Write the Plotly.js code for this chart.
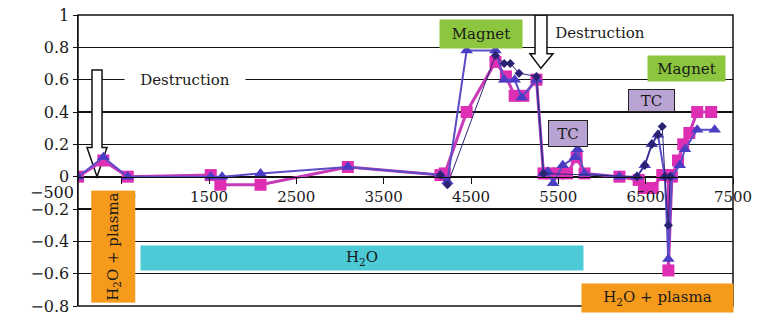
<!DOCTYPE html>
<html>
<head>
<meta charset="utf-8">
<script src="https://cdn.plot.ly/plotly-3.0.1.min.js"></script>
<style>
  html, body { margin: 0; padding: 0; background: #fff; }
  #chart { width: 761px; height: 321px; }
</style>
</head>
<body>
<div id="chart"></div>
<script>
// Series 1 - magenta squares
var pinkX = [0, 290, 570, 1520, 1630, 2090, 3090, 4150, 4200, 4450, 4780, 4900, 5000, 5100, 5250, 5330, 5400, 5500, 5600, 5710, 5800, 6200, 6420, 6480, 6580, 6690, 6760, 6760, 6800, 6870, 6930, 7000, 7090, 7250];
var pinkY = [0, 0.1, 0, 0.01, -0.05, -0.05, 0.06, 0.01, 0.02, 0.4, 0.71, 0.62, 0.5, 0.5, 0.6, 0.02, 0.02, 0.02, 0.02, 0.12, 0.02, 0, -0.02, -0.07, -0.07, 0.01, 0.01, -0.58, 0, 0.1, 0.2, 0.27, 0.4, 0.4];

// Series 2 - blue triangles
var blueX = [0, 290, 570, 1520, 1650, 2090, 3090, 4150, 4230, 4450, 4780, 4880, 5000, 5080, 5250, 5330, 5380, 5440, 5550, 5690, 5720, 5800, 6200, 6400, 6490, 6570, 6640, 6720, 6760, 6800, 6890, 6950, 7090, 7290];
var blueY = [0, 0.12, 0, 0, 0, 0.02, 0.06, 0.01, -0.03, 0.78, 0.78, 0.6, 0.6, 0.49, 0.6, 0.02, 0.03, -0.04, 0.07, 0.12, 0.17, 0.02, 0, 0, 0.07, 0.2, 0.26, 0, -0.51, 0, 0.07, 0.17, 0.29, 0.29];

// Series 3 - dark navy diamonds
var navyX = [4150, 4230, 4780, 4880, 4950, 5050, 5250, 5330, 6400, 6490, 6570, 6640, 6690, 6720, 6760, 6780];
var navyY = [0.01, -0.05, 0.75, 0.7, 0.7, 0.64, 0.62, 0.02, 0, 0.07, 0.2, 0.26, 0.31, 0, -0.3, 0];

var xTicks = [500, 1500, 2500, 3500, 4500, 5500, 6500, 7500];

var serif = "DejaVu Serif, Liberation Serif, serif";

var traces = [
  {
    x: pinkX, y: pinkY, type: "scatter", mode: "lines+markers",
    line: {color: "#c93ab8", width: 3},
    marker: {symbol: "square", size: 12, color: "#de2fb4"},
    showlegend: false
  },
  {
    x: blueX, y: blueY, type: "scatter", mode: "lines+markers",
    line: {color: "#5a4cc6", width: 2},
    marker: {symbol: "triangle-up", size: 11, color: "#4a3dc4"},
    showlegend: false
  },
  {
    x: navyX, y: navyY, type: "scatter", mode: "lines+markers",
    line: {color: "#2c2676", width: 1},
    marker: {symbol: "diamond", size: 7, color: "#2a2272"},
    showlegend: false
  }
];

var boxes = [
  {x: 1225, y: 0.6, text: "Destruction", w: 120, h: 22, bg: "#ffffff", border: "rgba(0,0,0,0)"},
  {x: 5980, y: 0.886, text: "Destruction", w: 100, h: 22, bg: "#ffffff", border: "rgba(0,0,0,0)"},
  {x: 4614, y: 0.88, text: "Magnet", w: 82, h: 28, bg: "#8cc63e", border: "rgba(0,0,0,0)"},
  {x: 6962, y: 0.67, text: "Magnet", w: 77, h: 25, bg: "#8cc63e", border: "rgba(0,0,0,0)"},
  {x: 6572, y: 0.47, text: "TC", w: 45, h: 21, bg: "#b9a3d3", border: "#222"},
  {x: 5610, y: 0.27, text: "TC", w: 38, h: 25, bg: "#b9a3d3", border: "#222"},
  {x: 3252, y: -0.505, text: "H<sub>2</sub>O", w: 442, h: 24, bg: "#4ccbd6", border: "rgba(0,0,0,0)"},
  {x: 6630, y: -0.75, text: "H<sub>2</sub>O + plasma", w: 151, h: 28, bg: "#f59a1b", border: "rgba(0,0,0,0)"}
];

var annotations = boxes.map(function (b) {
  return {
    x: b.x, y: b.y, xref: "x", yref: "y", text: b.text, showarrow: false,
    width: b.w, height: b.h, bgcolor: b.bg, bordercolor: b.border, borderwidth: 1,
    borderpad: 0, font: {family: serif, size: 15, color: "#1a1a1a"}
  };
});

// vertical orange label
annotations.push({
  x: 400, y: -0.43, xref: "x", yref: "y", text: "H<sub>2</sub>O + plasma", showarrow: false,
  textangle: -90, width: 111, height: 43, bgcolor: "#f59a1b", borderpad: 0,
  font: {family: serif, size: 15, color: "#1a1a1a"}
});

// the stray -500 tick label on the left
annotations.push({
  x: -0.076, y: -0.1, xref: "paper", yref: "y", text: "\u2212500", showarrow: false,
  font: {family: serif, size: 16, color: "#1a1a1a"}
});

var shapes = [
  // block arrow near start
  {type: "path", xref: "x", yref: "y", layer: "between",
   path: "M160,0.66 L275,0.66 L275,0.18 L332,0.18 L218,0 L103,0.18 L160,0.18 Z",
   fillcolor: "#ffffff", line: {color: "#111", width: 1.5}},
  // block arrow at top
  {type: "path", xref: "x", yref: "y", layer: "between",
   path: "M5233,1 L5370,1 L5370,0.76 L5439,0.76 L5300,0.67 L5175,0.76 L5233,0.76 Z",
   fillcolor: "#ffffff", line: {color: "#111", width: 1.5}},
  // plot frame
  {type: "rect", xref: "paper", yref: "paper", x0: 0, x1: 1, y0: 0, y1: 1,
   line: {color: "#111", width: 1.5}, layer: "above"}
];

var layout = {
  width: 761, height: 321,
  margin: {l: 78, r: 28, t: 15, b: 15},
  paper_bgcolor: "#ffffff", plot_bgcolor: "#ffffff",
  showlegend: false,
  xaxis: {
    range: [0, 7500], tickvals: xTicks, ticktext: xTicks.map(String),
    anchor: "free", position: 0.8 / 1.8,
    showgrid: false, zeroline: false,
    showline: true, linecolor: "#111", linewidth: 1.5,
    ticks: "outside", ticklen: 6, tickcolor: "#111",
    tickfont: {family: serif, size: 15, color: "#1a1a1a"}
  },
  yaxis: {
    range: [-0.8, 1], dtick: 0.2, tick0: 0,
    showgrid: true, gridcolor: "#111", gridwidth: 1.5,
    zeroline: false, showline: true, linecolor: "#111", linewidth: 1.5,
    ticks: "outside", ticklen: 4, tickcolor: "#111",
    tickfont: {family: serif, size: 16, color: "#1a1a1a"}
  },
  annotations: annotations,
  shapes: shapes
};

Plotly.newPlot("chart", traces, layout, {displayModeBar: false, staticPlot: true});
</script>
</body>
</html>
